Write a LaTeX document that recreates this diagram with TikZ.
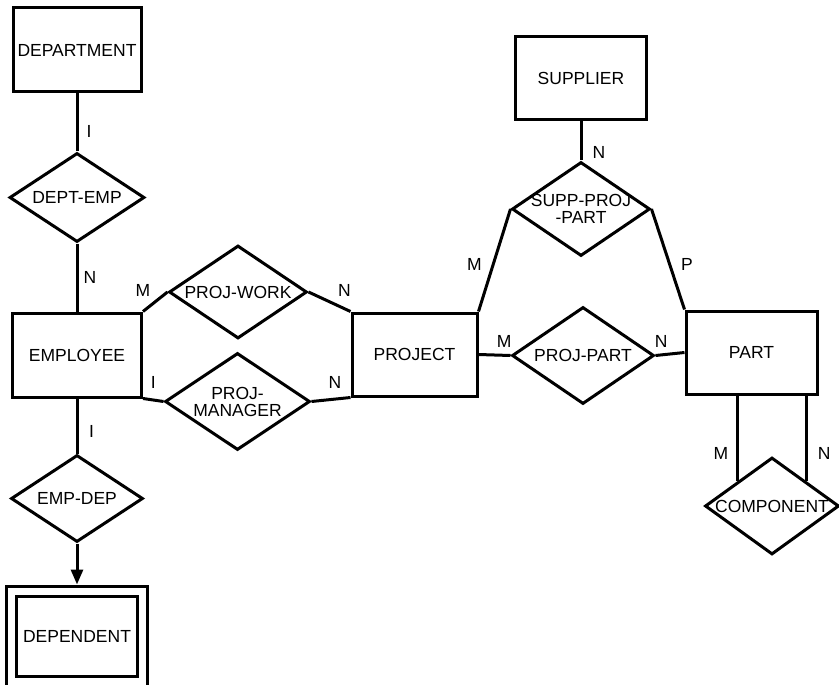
\documentclass[tikz,border=0pt]{standalone}
\usepackage{fontspec}
\setmainfont{Liberation Sans}
\usetikzlibrary{arrows.meta, shapes.geometric}

\begin{document}
\begin{tikzpicture}[x=1pt, y=-1pt, >={Triangle[length=15pt, width=12pt]},
    every node/.style={font=\fontsize{17.5}{17}\selectfont},
    entity/.style={draw, line width=3pt, inner sep=0pt},
    weak/.style={entity, double, double distance=7pt},
    relation/.style={draw, diamond, aspect=1.5, line width=3pt, inner sep=0pt, align=center},
    card/.style={inner sep=2pt},
    link/.style={line width=3pt}]

    \useasboundingbox (0,0) rectangle (839,685);

    % Entities
    \node[entity, minimum width=128pt, minimum height=84pt] (dept) at (77,50) {DEPARTMENT};
    \node[entity, minimum width=129pt, minimum height=84pt] (emp) at (77,355) {EMPLOYEE};
    \node[weak, minimum width=131pt, minimum height=90pt] (dep) at (77,636) {DEPENDENT};
    \node[entity, minimum width=125pt, minimum height=83pt] (proj) at (414.5,354.5) {PROJECT};
    \node[entity, minimum width=131pt, minimum height=83pt] (supp) at (581,78.5) {SUPPLIER};
    \node[entity, minimum width=131pt, minimum height=83pt] (part) at (751.5,352.5) {PART};

    % Relationships
    \node[relation, minimum width=135pt, minimum height=89pt] (deptemp) at (77,197.5) {DEPT-EMP};
    \node[relation, minimum width=132pt, minimum height=87pt] (empdep) at (77,498.5) {EMP-DEP};
    \node[relation, minimum width=138pt, minimum height=93pt] (projwork) at (238,292) {PROJ-WORK};
    \node[relation, minimum width=145pt, minimum height=97pt] (projman) at (237.5,401.5) {PROJ-\\MANAGER};
    \node[relation, minimum width=142pt, minimum height=97pt] (projpart) at (583,355.5) {PROJ-PART};
    \node[relation, minimum width=138pt, minimum height=94pt, inner xsep=-6pt] (spp) at (581,209) {SUPP-PROJ\\-PART};
    \node[relation, minimum width=134pt, minimum height=97pt] (comp) at (772,506) {COMPONENT};

    % Connectors with cardinalities
    \draw[link] (dept) -- node[card, pos=0.65, right=6pt] {I} (deptemp);
    \draw[link] (deptemp) -- node[card, pos=0.5, right=3pt] {N} (emp);
    \draw[link] (emp.north east) -- node[card, pos=0, above=12pt] {M} (projwork.west);
    \draw[link] (projwork.east) -- node[card, pos=1, above=12pt, xshift=-6pt] {N} (proj.north west);
    \draw[link] (emp.south east) -- node[card, pos=0.5, above=8pt] {I} (projman.west);
    \draw[link] (projman.east) -- node[card, pos=0.5, above=8pt, xshift=4pt] {N} (proj.south west);
    \draw[link] (emp) -- node[card, pos=0.6, right=8.5pt] {I} (empdep);
    \draw[link, ->, shorten >=5pt] (empdep) -- (dep);
    \draw[link] (proj.east) -- node[card, pos=0.8, above=4pt] {M} (projpart.west);
    \draw[link] (projpart.east) -- node[card, pos=0.2, above=4pt] {N} (part.west);
    \draw[link] (proj.north east) -- node[card, pos=0.46, left=8pt] {M} (spp.west);
    \draw[link] (spp.east) -- node[card, pos=0.55, right=8pt] {P} (part.north west);
    \draw[link] (supp) -- node[card, pos=0.8, right=8pt] {N} (spp);
    \draw[link] (comp.north west |- part.south) -- node[card, pos=0.68, left=6pt] {M} (comp.north west);
    \draw[link] (comp.north east |- part.south) -- node[card, pos=0.68, right=8pt] {N} (comp.north east);
\end{tikzpicture}
\end{document}
